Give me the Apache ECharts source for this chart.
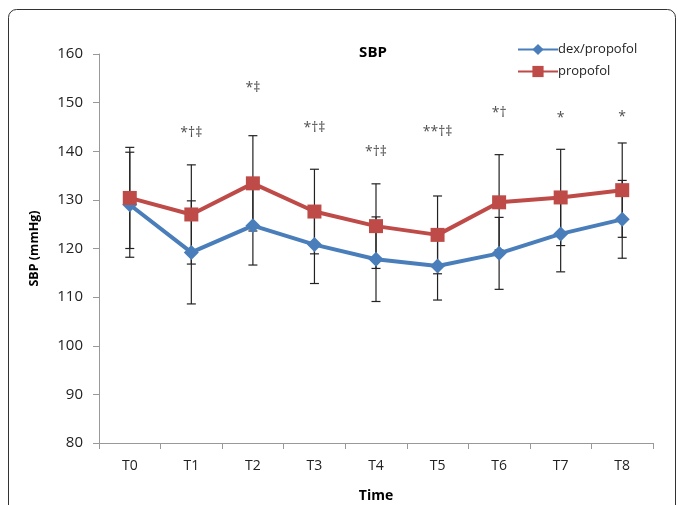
<!DOCTYPE html>
<html>
<head>
<meta charset="utf-8">
<script src="https://cdn.jsdelivr.net/npm/echarts@6/dist/echarts.min.js"></script>
<style>html,body{margin:0;padding:0;background:#fff}#c{width:678px;height:505px}</style>
</head>
<body>
<div id="c"></div>
<script>
var categories = ['T0','T1','T2','T3','T4','T5','T6','T7','T8'];
var dexMean = [129.0, 119.2, 124.7, 120.8, 117.8, 116.4, 119.0, 123.0, 126.0];
var dexSD   = [10.8, 10.6, 8.1, 8.0, 8.7, 7.0, 7.4, 7.8, 8.0];
var proMean = [130.4, 127.0, 133.4, 127.6, 124.6, 122.8, 129.5, 130.5, 132.0];
var proSD   = [10.4, 10.2, 9.8, 8.7, 8.7, 8.0, 9.8, 9.9, 9.7];
var sigText = ['', '*\u2020\u2021', '*\u2021', '*\u2020\u2021', '*\u2020\u2021', '**\u2020\u2021', '*\u2020', '*', '*'];
var sigY    = [null, 143.8, 153.0, 144.8, 139.8, 143.9, 147.9, 146.8, 147.0];

var FONT = '"Open Sans", "Noto Sans", sans-serif';
var chart = echarts.init(document.getElementById('c'));

function errData(means, sds) {
  return means.map(function (m, i) { return [i, m - sds[i], m + sds[i]]; });
}
function errRender(params, api) {
  var x = api.value(0);
  var lo = api.coord([x, api.value(1)]);
  var hi = api.coord([x, api.value(2)]);
  var w = 4.5;
  var st = { stroke: '#222', lineWidth: 1.2 };
  return { type: 'group', children: [
    { type: 'line', shape: { x1: hi[0], y1: hi[1], x2: lo[0], y2: lo[1] }, style: st },
    { type: 'line', shape: { x1: hi[0] - w, y1: hi[1], x2: hi[0] + w, y2: hi[1] }, style: st },
    { type: 'line', shape: { x1: lo[0] - w, y1: lo[1], x2: lo[0] + w, y2: lo[1] }, style: st }
  ]};
}

chart.setOption({
  animation: false,
  backgroundColor: '#fff',
  graphic: [{
    type: 'rect', left: 6, top: 7, silent: true,
    shape: { width: 667, height: 520, r: 8 },
    style: { fill: 'none', stroke: '#333', lineWidth: 1 }
  }],
  title: {
    text: 'SBP', left: 368, top: 40, textAlign: 'center',
    textStyle: { fontFamily: FONT, fontWeight: 'bold', fontSize: 15, color: '#000' }
  },
  legend: {
    orient: 'vertical', left: 512, top: 38, itemGap: 9,
    itemWidth: 40, itemHeight: 14,
    data: ['dex/propofol', 'propofol'],
    textStyle: { fontFamily: FONT, fontSize: 13, color: '#222', padding: [0, 0, 0, -5] }
  },
  grid: { left: 99, right: 25, top: 54, bottom: 62, containLabel: false, outerBoundsMode: 'none' },
  xAxis: {
    type: 'category', data: categories, boundaryGap: true,
    name: 'Time', nameLocation: 'middle', nameGap: 46,
    nameTextStyle: { fontFamily: FONT, fontWeight: 'bold', fontSize: 14, color: '#000' },
    axisLine: { lineStyle: { color: '#999' } },
    axisTick: { show: true, length: 6, lineStyle: { color: '#999' } },
    axisLabel: { fontFamily: FONT, fontSize: 14, color: '#222', margin: 16 },
    splitLine: { show: false }
  },
  yAxis: {
    type: 'value', min: 80, max: 160, interval: 10,
    name: 'SBP (mmHg)', nameLocation: 'middle', nameGap: 58,
    nameTextStyle: { fontFamily: FONT, fontWeight: 'bold', fontSize: 12.5, color: '#000' },
    axisLine: { show: true, lineStyle: { color: '#999' } },
    axisTick: { show: true, length: 6, lineStyle: { color: '#999' } },
    axisLabel: { fontFamily: FONT, fontSize: 15, color: '#222', margin: 16 },
    splitLine: { show: false }
  },
  series: [
    { type: 'custom', name: 'errDex', renderItem: errRender, data: errData(dexMean, dexSD), z: 1, silent: true },
    { type: 'custom', name: 'errPro', renderItem: errRender, data: errData(proMean, proSD), z: 1, silent: true },
    {
      name: 'dex/propofol', type: 'line', data: dexMean, z: 3,
      symbol: 'diamond', symbolSize: 15,
      lineStyle: { color: '#4A7EBB', width: 4 },
      itemStyle: { color: '#4A7EBB' }
    },
    {
      name: 'propofol', type: 'line', data: proMean, z: 4,
      symbol: 'rect', symbolSize: 14,
      lineStyle: { color: '#BE4B48', width: 4 },
      itemStyle: { color: '#BE4B48' }
    },
    {
      type: 'scatter', name: 'sig', symbolSize: 0, silent: true, z: 5,
      data: sigY.map(function (v, i) { return [i, v]; }),
      label: {
        show: true, position: 'inside',
        formatter: function (p) { return sigText[p.dataIndex]; },
        fontFamily: FONT, fontSize: 14, color: '#222'
      }
    }
  ]
});
</script>
</body>
</html>
